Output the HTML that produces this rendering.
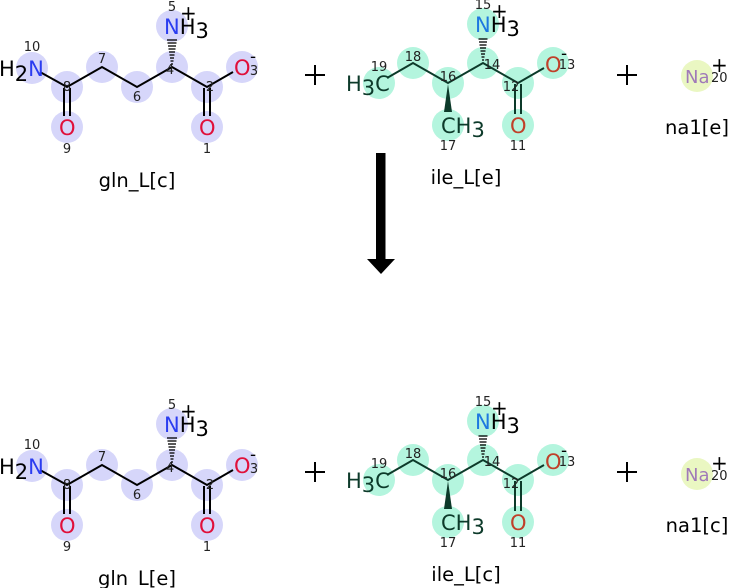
<!DOCTYPE html>
<html><head><meta charset="utf-8"><style>
html,body{margin:0;padding:0;background:#fff;}
svg{display:block;}
text{font-family:"DejaVu Sans","Liberation Sans",sans-serif;}
</style></head><body>
<svg width="729" height="588" viewBox="0 0 729 588" xmlns="http://www.w3.org/2000/svg">
<rect x="376" y="153" width="9.5" height="108" fill="#000"/>
<polygon points="367,259 395,259 381,274" fill="#000"/>
<g stroke="#000" stroke-width="2">
<line x1="305" y1="75" x2="325" y2="75"/><line x1="315" y1="65" x2="315" y2="85"/>
<line x1="617" y1="75" x2="637" y2="75"/><line x1="627" y1="65" x2="627" y2="85"/>
<line x1="305" y1="472" x2="325" y2="472"/><line x1="315" y1="462" x2="315" y2="482"/>
<line x1="617" y1="472" x2="637" y2="472"/><line x1="627" y1="462" x2="627" y2="482"/>
</g>

<g>
<g fill="#d6d6fa">
<circle cx="32" cy="68" r="16"/><circle cx="67" cy="87" r="16"/><circle cx="102" cy="67" r="16"/>
<circle cx="137" cy="87" r="16"/><circle cx="172" cy="67" r="16"/><circle cx="172" cy="26" r="16"/>
<circle cx="207" cy="87" r="16"/><circle cx="242" cy="67" r="16"/><circle cx="67" cy="127" r="16"/>
<circle cx="207" cy="127" r="16"/>
</g>
<g stroke="#000" stroke-width="2" fill="none">
<polyline points="40,72 67,87 102,67 137,87 172,67 207,87 233,72"/>
<line x1="64" y1="88" x2="64" y2="116"/><line x1="70" y1="88" x2="70" y2="116"/>
<line x1="204" y1="88" x2="204" y2="116"/><line x1="210" y1="88" x2="210" y2="116"/>
</g>
<g stroke="#000" stroke-width="1.3">
<line x1="171" y1="64" x2="173" y2="64"/><line x1="170.5" y1="61" x2="173.5" y2="61"/>
<line x1="170" y1="58" x2="174" y2="58"/><line x1="169.5" y1="55" x2="174.5" y2="55"/>
<line x1="169" y1="52" x2="175" y2="52"/><line x1="168.5" y1="49" x2="175.5" y2="49"/>
<line x1="168" y1="46" x2="176" y2="46"/><line x1="167.5" y1="43" x2="176.5" y2="43"/>
<line x1="167" y1="40" x2="177" y2="40"/>
</g>
<text x="-1" y="76" font-size="21" fill="#000">H<tspan dy="5">2</tspan><tspan dy="-5" fill="#2a3cf0">N</tspan></text>
<text x="164" y="34" font-size="21" fill="#2a3cf0">N<tspan fill="#000">H</tspan><tspan fill="#000" dy="4">3</tspan></text>
<text x="180" y="20" font-size="20" fill="#000">+</text>
<text x="234" y="75" font-size="21" fill="#e0103a">O</text>
<text x="250" y="62" font-size="17" fill="#000">-</text>
<text x="59" y="135" font-size="21" fill="#e0103a">O</text>
<text x="199" y="135" font-size="21" fill="#e0103a">O</text>
<g font-size="13" fill="#222" text-anchor="middle">
<text x="32" y="51">10</text><text x="67" y="91">8</text><text x="102" y="63">7</text>
<text x="137" y="101">6</text><text x="170" y="74">4</text><text x="172" y="11">5</text>
<text x="210" y="91">2</text><text x="254" y="75">3</text>
<text x="67" y="153">9</text><text x="207" y="153">1</text>
</g>
</g>
<g transform="translate(0,398)">
<g fill="#d6d6fa">
<circle cx="32" cy="68" r="16"/><circle cx="67" cy="87" r="16"/><circle cx="102" cy="67" r="16"/>
<circle cx="137" cy="87" r="16"/><circle cx="172" cy="67" r="16"/><circle cx="172" cy="26" r="16"/>
<circle cx="207" cy="87" r="16"/><circle cx="242" cy="67" r="16"/><circle cx="67" cy="127" r="16"/>
<circle cx="207" cy="127" r="16"/>
</g>
<g stroke="#000" stroke-width="2" fill="none">
<polyline points="40,72 67,87 102,67 137,87 172,67 207,87 233,72"/>
<line x1="64" y1="88" x2="64" y2="116"/><line x1="70" y1="88" x2="70" y2="116"/>
<line x1="204" y1="88" x2="204" y2="116"/><line x1="210" y1="88" x2="210" y2="116"/>
</g>
<g stroke="#000" stroke-width="1.3">
<line x1="171" y1="64" x2="173" y2="64"/><line x1="170.5" y1="61" x2="173.5" y2="61"/>
<line x1="170" y1="58" x2="174" y2="58"/><line x1="169.5" y1="55" x2="174.5" y2="55"/>
<line x1="169" y1="52" x2="175" y2="52"/><line x1="168.5" y1="49" x2="175.5" y2="49"/>
<line x1="168" y1="46" x2="176" y2="46"/><line x1="167.5" y1="43" x2="176.5" y2="43"/>
<line x1="167" y1="40" x2="177" y2="40"/>
</g>
<text x="-1" y="76" font-size="21" fill="#000">H<tspan dy="5">2</tspan><tspan dy="-5" fill="#2a3cf0">N</tspan></text>
<text x="164" y="34" font-size="21" fill="#2a3cf0">N<tspan fill="#000">H</tspan><tspan fill="#000" dy="4">3</tspan></text>
<text x="180" y="20" font-size="20" fill="#000">+</text>
<text x="234" y="75" font-size="21" fill="#e0103a">O</text>
<text x="250" y="62" font-size="17" fill="#000">-</text>
<text x="59" y="135" font-size="21" fill="#e0103a">O</text>
<text x="199" y="135" font-size="21" fill="#e0103a">O</text>
<g font-size="13" fill="#222" text-anchor="middle">
<text x="32" y="51">10</text><text x="67" y="91">8</text><text x="102" y="63">7</text>
<text x="137" y="101">6</text><text x="170" y="74">4</text><text x="172" y="11">5</text>
<text x="210" y="91">2</text><text x="254" y="75">3</text>
<text x="67" y="153">9</text><text x="207" y="153">1</text>
</g>
</g>
<text x="137" y="187" font-size="19.5" text-anchor="middle">gln_L[c]</text>
<text x="137" y="585" font-size="19.5" text-anchor="middle">gln_L[e]</text>

<g>
<g fill="#b4f5de">
<circle cx="379" cy="83" r="16"/><circle cx="413" cy="63" r="16"/><circle cx="448" cy="83" r="16"/>
<circle cx="483" cy="63" r="16"/><circle cx="483" cy="24" r="16"/><circle cx="518" cy="83" r="16"/>
<circle cx="553" cy="63" r="16"/><circle cx="448" cy="125" r="16"/><circle cx="518" cy="125" r="16"/>
</g>
<g stroke="#0d3a2a" stroke-width="2" fill="none">
<polyline points="387,78 413,63 448,83 483,63 518,83 544,68"/>
<line x1="515" y1="84" x2="515" y2="114"/><line x1="521" y1="84" x2="521" y2="114"/>
</g>
<polygon points="448,84 444,112 452,112" fill="#0d3a2a"/>
<g stroke="#000" stroke-width="1.3">
<line x1="482" y1="60" x2="484" y2="60"/><line x1="481.5" y1="57" x2="484.5" y2="57"/>
<line x1="481" y1="54" x2="485" y2="54"/><line x1="480.5" y1="51" x2="485.5" y2="51"/>
<line x1="480" y1="48" x2="486" y2="48"/><line x1="479.5" y1="45" x2="486.5" y2="45"/>
<line x1="479" y1="42" x2="487" y2="42"/><line x1="478.5" y1="39" x2="487.5" y2="39"/>
</g>
<text x="346" y="91" font-size="21" fill="#0d3a2a">H<tspan dy="4">3</tspan><tspan dy="-4">C</tspan></text>
<text x="441" y="133" font-size="21" fill="#0d3a2a">CH<tspan dy="4">3</tspan></text>
<text x="475" y="32" font-size="21" fill="#1e78e0">N<tspan fill="#000">H</tspan><tspan fill="#000" dy="4">3</tspan></text>
<text x="491" y="18" font-size="20" fill="#000">+</text>
<text x="545" y="72" font-size="21" fill="#c0402a">O</text>
<text x="561" y="59" font-size="17" fill="#000">-</text>
<text x="510" y="133" font-size="21" fill="#c0402a">O</text>
<g font-size="13" fill="#222" text-anchor="middle">
<text x="379" y="71">19</text><text x="413" y="61">18</text><text x="448" y="81">16</text>
<text x="492" y="69">14</text><text x="483" y="9">15</text><text x="511" y="91">12</text>
<text x="567" y="69">13</text><text x="448" y="150">17</text><text x="518" y="150">11</text>
</g>
</g>
<g transform="translate(0,397)">
<g fill="#b4f5de">
<circle cx="379" cy="83" r="16"/><circle cx="413" cy="63" r="16"/><circle cx="448" cy="83" r="16"/>
<circle cx="483" cy="63" r="16"/><circle cx="483" cy="24" r="16"/><circle cx="518" cy="83" r="16"/>
<circle cx="553" cy="63" r="16"/><circle cx="448" cy="125" r="16"/><circle cx="518" cy="125" r="16"/>
</g>
<g stroke="#0d3a2a" stroke-width="2" fill="none">
<polyline points="387,78 413,63 448,83 483,63 518,83 544,68"/>
<line x1="515" y1="84" x2="515" y2="114"/><line x1="521" y1="84" x2="521" y2="114"/>
</g>
<polygon points="448,84 444,112 452,112" fill="#0d3a2a"/>
<g stroke="#000" stroke-width="1.3">
<line x1="482" y1="60" x2="484" y2="60"/><line x1="481.5" y1="57" x2="484.5" y2="57"/>
<line x1="481" y1="54" x2="485" y2="54"/><line x1="480.5" y1="51" x2="485.5" y2="51"/>
<line x1="480" y1="48" x2="486" y2="48"/><line x1="479.5" y1="45" x2="486.5" y2="45"/>
<line x1="479" y1="42" x2="487" y2="42"/><line x1="478.5" y1="39" x2="487.5" y2="39"/>
</g>
<text x="346" y="91" font-size="21" fill="#0d3a2a">H<tspan dy="4">3</tspan><tspan dy="-4">C</tspan></text>
<text x="441" y="133" font-size="21" fill="#0d3a2a">CH<tspan dy="4">3</tspan></text>
<text x="475" y="32" font-size="21" fill="#1e78e0">N<tspan fill="#000">H</tspan><tspan fill="#000" dy="4">3</tspan></text>
<text x="491" y="18" font-size="20" fill="#000">+</text>
<text x="545" y="72" font-size="21" fill="#c0402a">O</text>
<text x="561" y="59" font-size="17" fill="#000">-</text>
<text x="510" y="133" font-size="21" fill="#c0402a">O</text>
<g font-size="13" fill="#222" text-anchor="middle">
<text x="379" y="71">19</text><text x="413" y="61">18</text><text x="448" y="81">16</text>
<text x="492" y="69">14</text><text x="483" y="9">15</text><text x="511" y="91">12</text>
<text x="567" y="69">13</text><text x="448" y="150">17</text><text x="518" y="150">11</text>
</g>
</g>
<text x="466" y="184" font-size="19.5" text-anchor="middle">ile_L[e]</text>
<text x="466" y="581" font-size="19.5" text-anchor="middle">ile_L[c]</text>

<circle cx="697" cy="76" r="16" fill="#eaf7c2"/>
<text x="685" y="83" font-size="18" fill="#a07ab8">Na</text>
<text x="711" y="72" font-size="20" fill="#000">+</text>
<text x="711" y="82" font-size="13" fill="#222">20</text>
<text x="697" y="134" font-size="19.5" text-anchor="middle">na1[e]</text>
<circle cx="697" cy="474" r="16" fill="#eaf7c2"/>
<text x="685" y="481" font-size="18" fill="#a07ab8">Na</text>
<text x="711" y="470" font-size="20" fill="#000">+</text>
<text x="711" y="480" font-size="13" fill="#222">20</text>
<text x="697" y="532" font-size="19.5" text-anchor="middle">na1[c]</text>
</svg>
</body></html>
